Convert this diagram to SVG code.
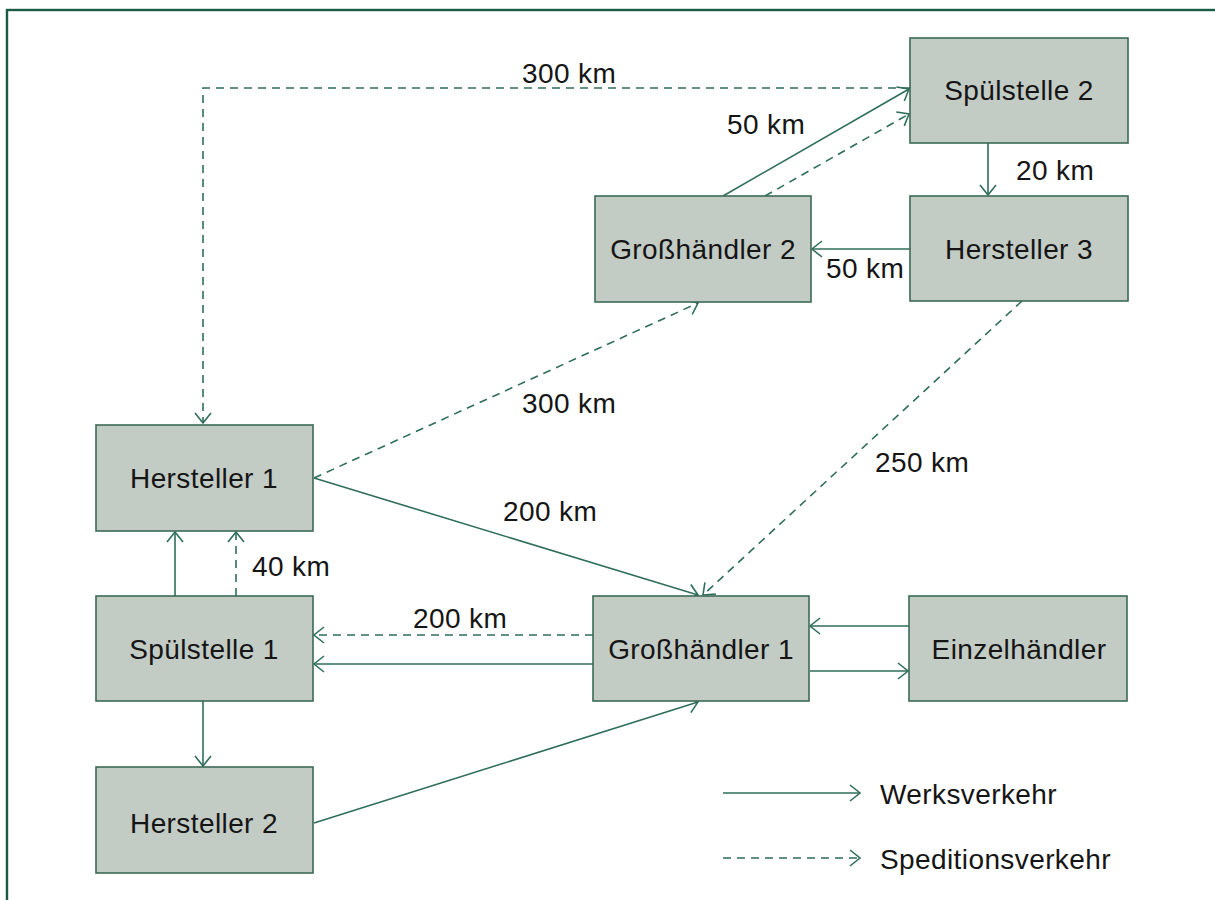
<svg xmlns="http://www.w3.org/2000/svg" width="1215" height="900" viewBox="0 0 1215 900">
<style>
.node rect{fill:#c3cbc5;stroke:#3c6a55;stroke-width:1.6}
text{font-family:"Liberation Sans",Arial,sans-serif;font-size:28px;letter-spacing:0.4px;fill:#151515}
.nt{text-anchor:middle}
.c{fill:none;stroke:#2f6e5c;stroke-width:1.6}
.d{stroke-dasharray:8 6}
</style>
<defs>
<marker id="a" markerUnits="userSpaceOnUse" markerWidth="16" markerHeight="20" refX="12" refY="10" orient="auto" viewBox="0 0 16 20">
<path d="M2,2 L12,10 L2,18" fill="none" stroke="#2f6e5c" stroke-width="1.6"/>
</marker>
</defs>
<rect width="1215" height="900" fill="#fff"/>
<rect x="7" y="10" width="1230" height="910" fill="none" stroke="#1c5a48" stroke-width="2.4"/>

<g id="connectors">
<path class="c d" d="M910,88 H203 V423" marker-end="url(#a)"/>
<path class="c" d="M723,196 L909,89" marker-end="url(#a)"/>
<path class="c d" d="M765,196 L909,114" marker-end="url(#a)"/>
<path class="c" d="M988,143 V195" marker-end="url(#a)"/>
<path class="c" d="M910,249 H812" marker-end="url(#a)"/>
<path class="c d" d="M314,478 L698,303" marker-end="url(#a)"/>
<path class="c" d="M314,478 L698,595" marker-end="url(#a)"/>
<path class="c d" d="M1022,301 L703,595" marker-end="url(#a)"/>
<path class="c" d="M175,596 V532" marker-end="url(#a)"/>
<path class="c d" d="M236,596 V532" marker-end="url(#a)"/>
<path class="c d" d="M593,635 H314" marker-end="url(#a)"/>
<path class="c" d="M593,664 H314" marker-end="url(#a)"/>
<path class="c" d="M203,701 V766" marker-end="url(#a)"/>
<path class="c" d="M314,823 L698,702" marker-end="url(#a)"/>
<path class="c" d="M909,626 H810" marker-end="url(#a)"/>
<path class="c" d="M810,671 H908" marker-end="url(#a)"/>
</g>

<g id="labels">
<text x="522" y="83">300 km</text>
<text x="727" y="134">50 km</text>
<text x="1016" y="180">20 km</text>
<text x="826" y="278">50 km</text>
<text x="522" y="413">300 km</text>
<text x="875" y="472">250 km</text>
<text x="503" y="521">200 km</text>
<text x="252" y="576">40 km</text>
<text x="413" y="628">200 km</text>
</g>

<g id="n-spuel2" class="node"><rect x="910" y="38" width="218" height="105"/><text class="nt" x="1019" y="100">Spülstelle 2</text></g>
<g id="n-herst3" class="node"><rect x="910" y="196" width="218" height="105"/><text class="nt" x="1019" y="259">Hersteller 3</text></g>
<g id="n-gross2" class="node"><rect x="595" y="196" width="216" height="106"/><text class="nt" x="703" y="259">Großhändler 2</text></g>
<g id="n-herst1" class="node"><rect x="96" y="425" width="217" height="106"/><text class="nt" x="204" y="488">Hersteller 1</text></g>
<g id="n-spuel1" class="node"><rect x="96" y="596" width="217" height="105"/><text class="nt" x="204" y="659">Spülstelle 1</text></g>
<g id="n-gross1" class="node"><rect x="593" y="596" width="216" height="105"/><text class="nt" x="701" y="659">Großhändler 1</text></g>
<g id="n-einzel" class="node"><rect x="909" y="596" width="218" height="105"/><text class="nt" x="1019" y="659">Einzelhändler</text></g>
<g id="n-herst2" class="node"><rect x="96" y="767" width="217" height="106"/><text class="nt" x="204" y="833">Hersteller 2</text></g>

<g id="legend">
<path class="c" d="M723,793 H860" marker-end="url(#a)"/>
<text x="880" y="804">Werksverkehr</text>
<path class="c d" d="M723,858 H860" marker-end="url(#a)"/>
<text x="880" y="869">Speditionsverkehr</text>
</g>
</svg>
